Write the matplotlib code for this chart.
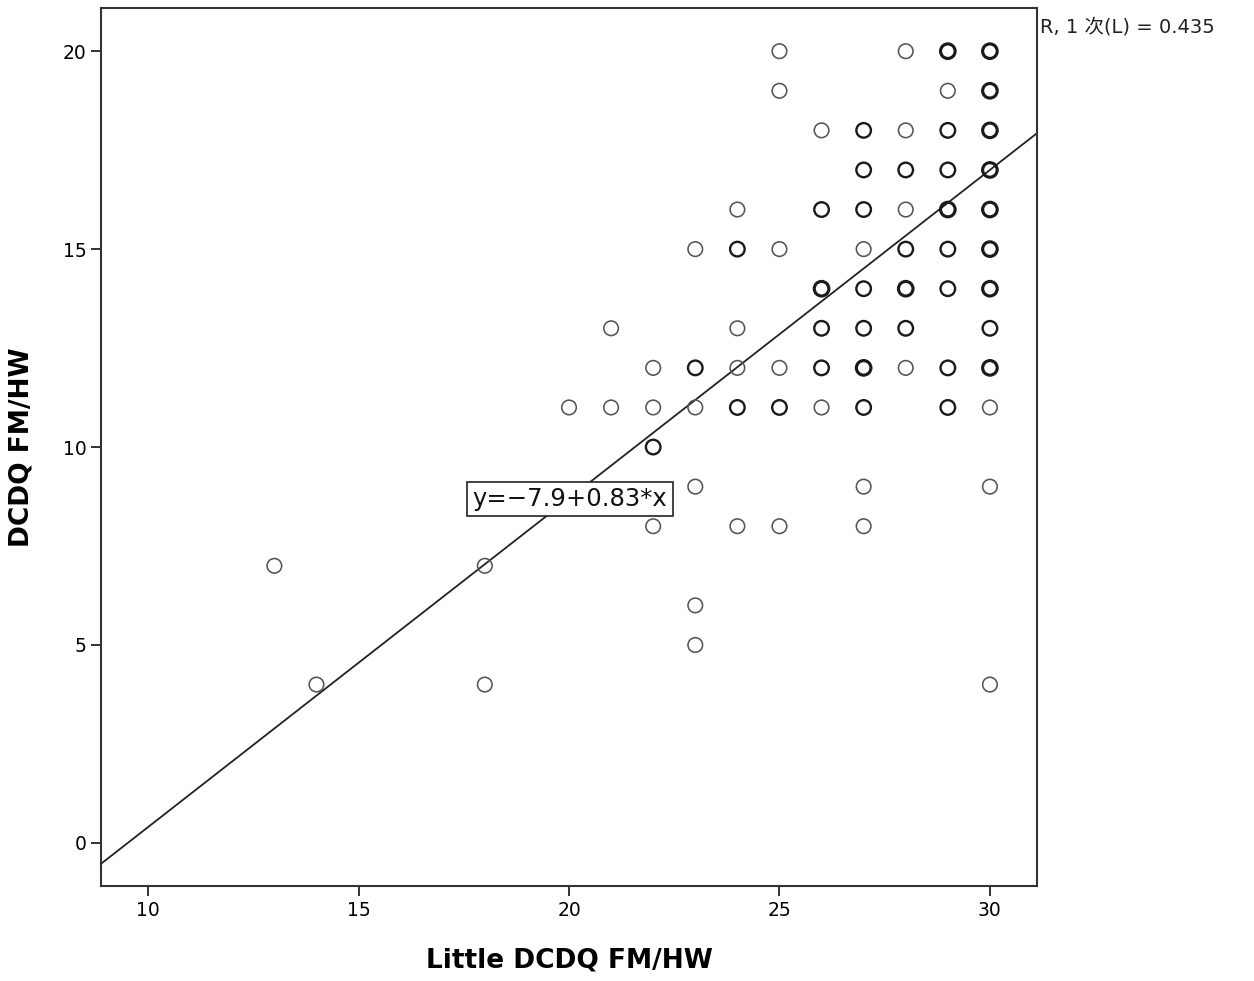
import matplotlib
matplotlib.use("Agg")
import matplotlib.pyplot as plt
import numpy as np

# observed points (x, y) and how many cases sit on each point
little_dcdq = [13, 14, 18, 18, 20, 21, 21,
               22, 22, 22, 22,
               23, 23, 23, 23, 23, 23,
               24, 24, 24, 24, 24, 24,
               25, 25, 25, 25, 25, 25,
               26, 26, 26, 26, 26, 26,
               27, 27, 27, 27, 27, 27, 27, 27, 27, 27,
               28, 28, 28, 28, 28, 28, 28, 28,
               29, 29, 29, 29, 29, 29, 29, 29, 29,
               30, 30, 30, 30, 30, 30, 30, 30, 30, 30, 30, 30]
dcdq = [7, 4, 7, 4, 11, 13, 11,
        12, 11, 10, 8,
        15, 12, 11, 9, 6, 5,
        16, 15, 13, 12, 11, 8,
        20, 19, 15, 12, 11, 8,
        18, 16, 14, 13, 12, 11,
        18, 17, 16, 15, 14, 13, 12, 11, 9, 8,
        20, 18, 17, 16, 15, 14, 13, 12,
        20, 19, 18, 17, 16, 15, 14, 12, 11,
        20, 19, 18, 17, 16, 15, 14, 13, 12, 11, 9, 4]
n_overlap = [1, 1, 1, 1, 1, 1, 1,
             1, 1, 2, 1,
             1, 2, 1, 1, 1, 1,
             1, 2, 1, 1, 2, 1,
             1, 1, 1, 1, 2, 1,
             1, 2, 3, 2, 2, 1,
             2, 2, 2, 1, 2, 2, 3, 2, 1, 1,
             1, 1, 2, 1, 2, 3, 2, 1,
             3, 1, 2, 2, 3, 2, 2, 2, 2,
             3, 3, 3, 3, 3, 3, 3, 2, 3, 1, 1, 1]

# fit line as reported
intercept = -7.9
slope = 0.83
fit_label = "y=\u22127.9+0.83*x"
r2_label = "R, 1 次(L) = 0.435"

xticks = [10, 15, 20, 25, 30]
yticks = [0, 5, 10, 15, 20]

fig = plt.figure(figsize=(12.54, 9.81), dpi=100)
ax = fig.add_axes([0.0805, 0.0968, 0.7465, 0.895])

x = np.array(little_dcdq)
y = np.array(dcdq)
lw = 0.6 + 0.55 * np.array(n_overlap)
# single cases drawn a bit lighter, stacked ones darker
cols = ["#555555" if n == 1 else "#1a1a1a" for n in n_overlap]
ax.scatter(x, y, s=110, facecolors="none", edgecolors=cols, linewidths=lw, zorder=3)

xlim = (8.88, 31.12)
ylim = (-1.09, 21.09)
xl = np.array(xlim)
ax.plot(xl, intercept + slope * xl, color="#222222", lw=1.3, zorder=2)

ax.text(20.02, 8.69, fit_label, ha="center", va="center", fontsize=17.5,
        color="#111111",
        bbox=dict(boxstyle="square,pad=0.22", facecolor="white", edgecolor="#222222", lw=1.2),
        zorder=4)

ax.set_xlim(xlim)
ax.set_ylim(ylim)
ax.set_xticks(xticks)
ax.set_yticks(yticks)
ax.tick_params(direction="out", length=7, width=1.3, labelsize=13.5, color="#222222")
for s in ax.spines.values():
    s.set_linewidth(1.5)
    s.set_color("#333333")

ax.set_xlabel("Little DCDQ FM/HW", fontsize=19, fontweight="bold", labelpad=20)
ax.set_ylabel("DCDQ FM/HW", fontsize=19, fontweight="bold", labelpad=20)

fig.text(0.829, 0.972, r2_label, fontsize=14, ha="left", va="center",
         family=["DejaVu Sans", "Noto Sans CJK SC"], color="#222222")

fig.savefig("out.png", dpi=100)
